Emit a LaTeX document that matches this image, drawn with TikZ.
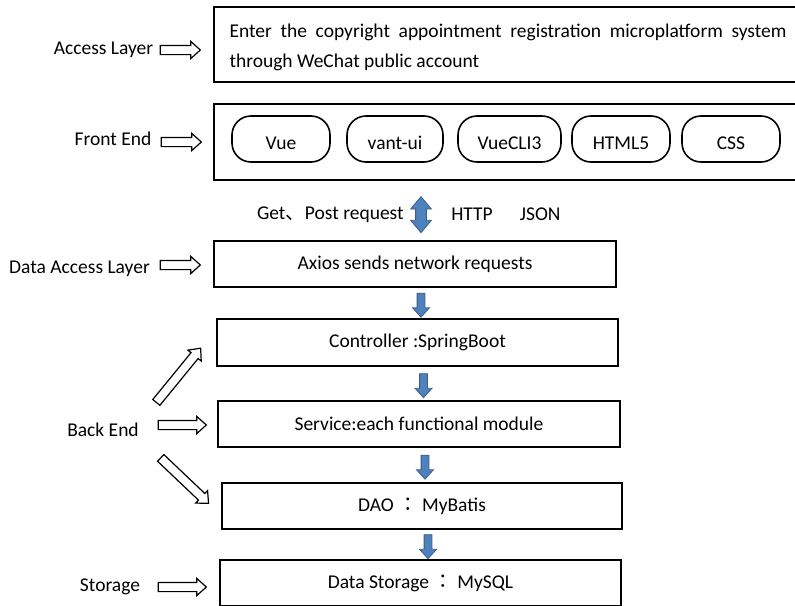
\documentclass[tikz,border=0pt]{standalone}
\usepackage{fontspec}
\setmainfont{Carlito}
\newfontfamily\cjk{Noto Sans CJK SC}
\newfontfamily\cjktc{Noto Sans CJK TC}
\usetikzlibrary{shapes.arrows,positioning}

\definecolor{arrowblue}{RGB}{79,129,189}
\definecolor{arrowedge}{RGB}{56,93,138}

\begin{document}
\begin{tikzpicture}
[x=1pt,y=-1pt,every node/.style={font=\fontsize{19.5}{30}\selectfont},
 box/.style={draw,line width=1.6pt,minimum height=46pt},
 pill/.style={draw,line width=1.6pt,rounded corners=19pt,minimum height=46pt,
   text height=20pt,text depth=0pt},
 fat/.style={single arrow,draw,fill=white,line width=1.2pt,inner sep=4pt,
   single arrow head extend=4pt,single arrow tip angle=84,minimum height=40pt},
 bluedown/.style={single arrow,draw=arrowedge,fill=arrowblue,line width=.8pt,
   inner sep=3.5pt,single arrow head extend=4.5pt,single arrow tip angle=84,
   minimum height=24pt,shape border rotate=270},
 blueboth/.style={double arrow,draw=arrowedge,fill=arrowblue,line width=.8pt,
   inner sep=5pt,double arrow head extend=5pt,double arrow tip angle=80,
   minimum height=36pt,shape border rotate=90}]
\useasboundingbox (0,0) rectangle (795,605);
% layers on the left
\node (accl) at (103.5,50) {Access Layer};
\node (frontl) at (113,139) {Front End};
\node (dal) at (79.5,269) {Data Access Layer};
\node (bkl) at (103,430) {Back End};
\node (storl) at (110,587) {Storage};
% boxes
\node[box,minimum width=588pt,minimum height=75pt,text width=557pt,align=justify,inner xsep=0pt] (accbox) at (508,44.5)
 {\rule{0pt}{19pt}Enter the copyright appointment registration microplatform system\linebreak through WeChat public account};
\node[box,minimum width=588pt,minimum height=76pt] (front) at (508,142) {};
\node[pill,minimum width=98pt] (vue) at (281,139) {Vue};
\node[pill,minimum width=96pt] (vant) at (395,139) {vant-ui};
\node[pill,minimum width=103pt] (cli) at (509.5,139) {VueCLI3};
\node[pill,minimum width=98pt] (html) at (621,139) {HTML5};
\node[pill,minimum width=98pt] (css) at (731,139) {CSS};
\node[box,minimum width=402pt] (axios) at (415,264) {Axios sends network requests};
\node[box,minimum width=401pt,minimum height=47pt] (ctrl) at (417.5,342.5) {Controller :SpringBoot};
\node[box,minimum width=402pt] (svc) at (419,424) {Service:each functional module};
\node[box,minimum width=400pt] (dao) at (422,506) {DAO {\cjktc ：} MyBatis};
\node[box,minimum width=401pt] (store) at (420.5,583) {Data Storage {\cjktc ：} MySQL\hspace{28pt}};
% request between front end and axios
\path (axios.north) -- (axios.north |- front.south) node[pos=.43,xshift=6pt,blueboth] (req) {};
\node[left=8pt of req] (getpost) {Get{\cjk 、}Post request};
\node[right=21pt of req] (http) {HTTP};
\node[right=20pt of http] (json) {JSON};
\foreach \from/\to in {axios/ctrl,ctrl/svc,svc/dao,dao/store}
\path (\from.south) -- (\from.south |- \to.north) node[midway,xshift=6pt,bluedown] {};
% fat arrows
\path (accl) -- (accl -| accbox.west) node[pos=1,anchor=tip,xshift=-12pt,fat] {};
\path (frontl) -- (frontl -| front.west) node[pos=1,anchor=tip,xshift=-11pt,yshift=-3pt,fat] {};
\path (dal) -- (dal -| axios.west) node[pos=1,anchor=tip,xshift=-12pt,yshift=4pt,fat] {};
\path (bkl) -- (bkl -| svc.west) node[pos=1,anchor=tip,xshift=-10pt,yshift=5pt,fat,minimum height=48pt] {};
\path (storl) -- (storl -| store.west) node[pos=1,anchor=tip,xshift=-12pt,fat,minimum height=48pt] {};
\path (bkl.north east) -- ([xshift=-15pt,yshift=-5pt]ctrl.west) node[pos=1,sloped,anchor=tip,fat,minimum height=70pt] {};
\path (bkl.south east) -- ([xshift=-12pt,yshift=2pt]dao.west) node[pos=1,sloped,anchor=tip,fat,minimum height=66pt] {};
\end{tikzpicture}
\end{document}
